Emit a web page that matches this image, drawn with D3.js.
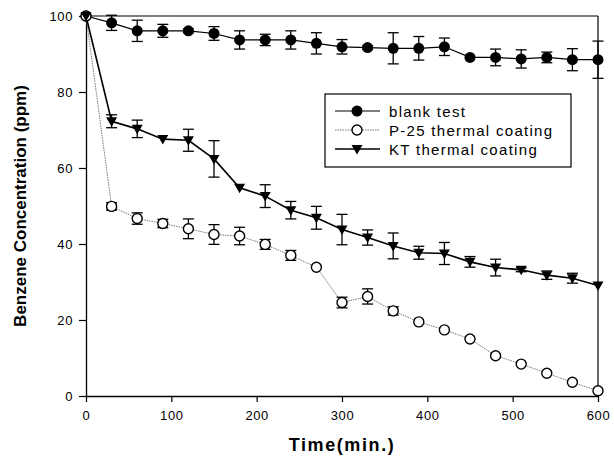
<!DOCTYPE html>
<html>
<head>
<meta charset="utf-8">
<script src="https://cdn.jsdelivr.net/npm/d3@7"></script>
<style>
  body { margin: 0; background: #fff; }
  svg { font-family: Arial, "Liberation Sans", sans-serif; }
</style>
</head>
<body>
<div id="chart"></div>
<script>
'use strict';

// time points (min)
const times = [0, 30, 60, 90, 120, 150, 180, 210, 240, 270, 300, 330, 360, 390, 420, 450, 480, 510, 540, 570, 600];

// blank test
const blankVals = [100, 98.2, 96.1, 96.1, 96.1, 95.4, 93.7, 93.7, 93.7, 92.8, 91.9, 91.7, 91.5, 91.5, 91.9, 89.1, 89.1, 88.7, 89.1, 88.5, 88.5];
const blankErr  = [0, 2.0, 2.8, 1.7, 0.5, 1.8, 2.4, 1.5, 2.4, 2.8, 1.9, 0.5, 4.1, 3.1, 2.3, 0, 2.2, 2.4, 1.4, 2.9, 4.9];

// P-25 thermal coating
const p25Vals = [100, 49.9, 46.7, 45.4, 44.0, 42.5, 42.1, 39.9, 37.0, 33.9, 24.6, 26.2, 22.4, 19.5, 17.4, 15.0, 10.6, 8.4, 6.0, 3.6, 1.4];
const p25Err  = [0, 1.0, 1.5, 1.1, 2.6, 2.6, 2.3, 1.3, 1.3, 0, 1.4, 2.0, 1.1, 0, 0, 0, 0, 0, 0, 0, 0];

// KT thermal coating
const ktVals = [100, 72.3, 70.3, 67.6, 67.3, 62.4, 54.8, 52.6, 48.9, 46.9, 43.8, 41.7, 39.5, 37.7, 37.5, 35.3, 33.8, 33.2, 31.8, 31.0, 29.1];
const ktErr  = [0, 1.7, 2.3, 0, 2.9, 4.8, 0, 3.0, 2.3, 3.0, 4.0, 2.0, 3.4, 1.7, 2.9, 1.4, 2.2, 0.5, 1.1, 1.3, 0];

const seriesNames = ["blank test", "P-25 thermal coating", "KT thermal coating"];
const xTicks = [0, 100, 200, 300, 400, 500, 600];
const yTicks = [0, 20, 40, 60, 80, 100];

const W = 614, H = 456;
const margin = { top: 16, right: 16, bottom: 60, left: 86 };
const width = W - margin.left - margin.right;
const height = H - margin.top - margin.bottom;

const svg = d3.select("#chart").append("svg")
    .attr("width", W)
    .attr("height", H);

const g = svg.append("g")
    .attr("transform", `translate(${margin.left},${margin.top})`);

const x = d3.scaleLinear().domain([0, 600]).range([0, width]);
const y = d3.scaleLinear().domain([0, 100]).range([height, 0]);

// frame (top and right)
g.append("line").attr("x1", 0).attr("x2", width).attr("y1", 0).attr("y2", 0)
    .attr("stroke", "#000").attr("stroke-width", 1.2);
g.append("line").attr("x1", width).attr("x2", width).attr("y1", 0).attr("y2", height)
    .attr("stroke", "#000").attr("stroke-width", 1.2);

// axes
const xAxis = g.append("g")
    .attr("transform", `translate(0,${height})`)
    .call(d3.axisBottom(x).tickValues(xTicks).tickSize(6).tickPadding(9).tickSizeOuter(0));
const yAxis = g.append("g")
    .call(d3.axisLeft(y).tickValues(yTicks).tickSize(7).tickPadding(6).tickSizeOuter(0));

[xAxis, yAxis].forEach(a => {
    a.select(".domain").attr("stroke", "#000").attr("stroke-width", 1.3);
    a.selectAll(".tick line").attr("stroke", "#000").attr("stroke-width", 1.2);
    a.selectAll("text").attr("fill", "#000").style("font-size", "13px")
        .style("letter-spacing", "0.6px")
        .style("font-family", "Arial, 'Liberation Sans', sans-serif");
});

// axis labels
svg.append("text")
    .attr("x", 342)
    .attr("y", 451)
    .attr("text-anchor", "middle")
    .style("font-size", "18px")
    .style("font-weight", "bold")
    .style("letter-spacing", "1.6px")
    .text("Time(min.)");

svg.append("text")
    .attr("transform", "rotate(-90)")
    .attr("x", -(margin.top + height / 2))
    .attr("y", 26)
    .attr("text-anchor", "middle")
    .style("font-size", "17px")
    .style("font-weight", "bold")
    .text("Benzene Concentration (ppm)");

const series = [
    { name: seriesNames[0], vals: blankVals, err: blankErr, marker: "filled", line: "solid" },
    { name: seriesNames[1], vals: p25Vals, err: p25Err, marker: "open", line: "dotted" },
    { name: seriesNames[2], vals: ktVals, err: ktErr, marker: "tri", line: "solid2" }
];

const lineGen = d3.line().x(d => x(d.t)).y(d => y(d.v));

function lineStyle(sel, kind) {
    if (kind === "dotted") {
        sel.attr("stroke", "#777").attr("stroke-width", 1).attr("stroke-dasharray", "1.5,1");
    } else if (kind === "solid2") {
        sel.attr("stroke", "#000").attr("stroke-width", 1.6);
    } else {
        sel.attr("stroke", "#000").attr("stroke-width", 1.2);
    }
    return sel;
}

function drawMarker(sel, kind) {
    if (kind === "filled") {
        sel.append("circle").attr("r", 5.5).attr("fill", "#000");
    } else if (kind === "open") {
        sel.append("circle").attr("r", 5).attr("fill", "#fff")
            .attr("stroke", "#000").attr("stroke-width", 1.4);
    } else {
        sel.append("path").attr("d", "M-5.5,-4 L5.5,-4 L0,5.5 Z").attr("fill", "#000");
    }
}

// lines
series.forEach(s => {
    const pts = times.map((t, i) => ({ t: t, v: s.vals[i] }));
    lineStyle(g.append("path").datum(pts).attr("fill", "none").attr("d", lineGen), s.line);
});

// error bars
series.forEach(s => {
    const pts = times.map((t, i) => ({ t: t, v: s.vals[i], e: s.err[i] })).filter(d => d.e > 0);
    const eb = g.append("g").selectAll("g").data(pts).enter().append("g");
    eb.append("line")
        .attr("x1", d => x(d.t)).attr("x2", d => x(d.t))
        .attr("y1", d => y(d.v - d.e)).attr("y2", d => y(d.v + d.e))
        .attr("stroke", "#000").attr("stroke-width", 1.3);
    [-1, 1].forEach(sign => {
        eb.append("line")
            .attr("x1", d => x(d.t) - 5.5).attr("x2", d => x(d.t) + 5.5)
            .attr("y1", d => y(d.v + sign * d.e)).attr("y2", d => y(d.v + sign * d.e))
            .attr("stroke", "#000").attr("stroke-width", 1.3);
    });
});

// markers
series.forEach(s => {
    const pts = times.map((t, i) => ({ t: t, v: s.vals[i] }));
    const m = g.append("g").selectAll("g").data(pts).enter().append("g")
        .attr("transform", d => `translate(${x(d.t)},${y(d.v)})`);
    drawMarker(m, s.marker);
});

// legend
const legend = svg.append("g").attr("transform", "translate(325,94)");
legend.append("rect")
    .attr("width", 246).attr("height", 73)
    .attr("fill", "#fff").attr("stroke", "#000").attr("stroke-width", 1.2);

const items = legend.selectAll(".legend-item")
    .data(series)
    .enter().append("g")
    .attr("class", "legend-item")
    .attr("transform", (d, i) => `translate(0,${17 + i * 19})`);

items.each(function (d) {
    const it = d3.select(this);
    lineStyle(it.append("line").attr("x1", 10).attr("x2", 55).attr("y1", 0).attr("y2", 0), d.line);
    drawMarker(it.append("g").attr("transform", "translate(32,0)"), d.marker);
    it.append("text")
        .attr("x", 64).attr("y", 5.5)
        .style("font-size", "15px")
        .style("letter-spacing", "1.3px")
        .text(d.name);
});
</script>
</body>
</html>
